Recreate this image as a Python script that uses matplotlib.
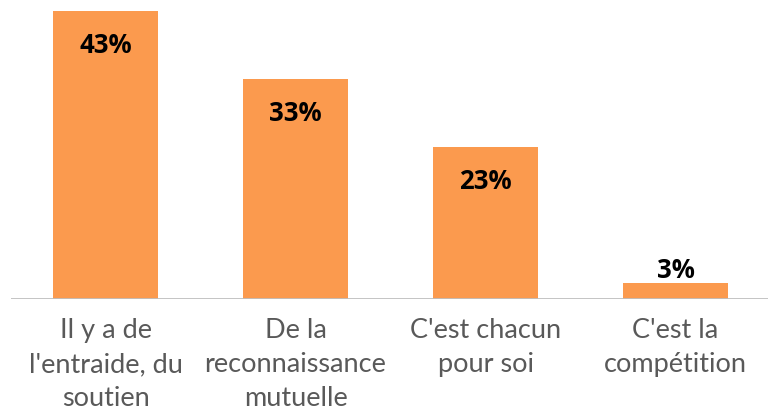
import matplotlib.pyplot as plt

# data
categories = ["Il y a de\nl'entraide, du\nsoutien",
              "De la\nreconnaissance\nmutuelle",
              "C'est chacun\npour soi",
              "C'est la\ncompétition"]
values = [43, 33, 23, 3]

ORANGE = "#FB9A4E"
GRAY_LINE = "#BFBFBF"
TEXT_GRAY = "#595959"

fig = plt.figure(figsize=(7.68, 4.18), dpi=100)
ax = fig.add_axes([10.5 / 768, (418 - 299) / 418, 760 / 768, 299 / 418])

x = range(len(values))
ybot = 0.65
ax.bar(x, values, width=105 / 190, color=ORANGE, zorder=2)
ax.axhline(ybot, color=GRAY_LINE, lw=2.0, zorder=3)

ax.set_xlim(-0.5, len(values) - 0.5)
ax.set_ylim(ybot, ybot + 299 / 6.8)

for i, v in enumerate(values):
    y = v - 5.0 if v > 10 else v + 1.8
    ax.text(i, y, f"{v}%", ha="center", va="center",
            fontsize=18.5, fontweight="bold", family="Open Sans", color="black")

ax.set_xticks(list(x))
ax.set_xticklabels(categories, fontsize=19.5, family="Lato", color=TEXT_GRAY,
                   linespacing=1.43)
ax.tick_params(axis="x", length=0, pad=14)
ax.set_yticks([])
for s in ax.spines.values():
    s.set_visible(False)

fig.savefig("out.png", dpi=100)
